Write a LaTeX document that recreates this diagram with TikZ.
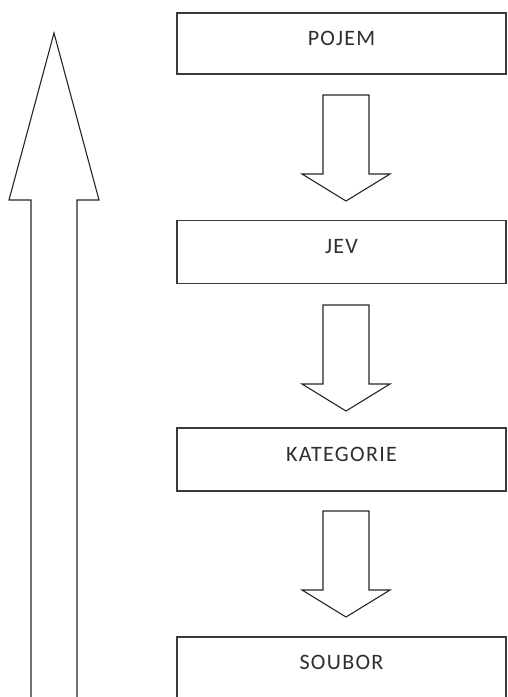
\documentclass[tikz,border=0pt]{standalone}
\usepackage{fontspec}
\setmainfont{Carlito}
\newfontfamily\stagefont[LetterSpace=6]{Carlito}
\definecolor{boxline}{HTML}{3A3A3A}
\definecolor{txt}{HTML}{2E2E2E}
\begin{document}
\begin{tikzpicture}[x=1pt,y=-1pt,
  stagebox/.style={draw=boxline,line width=1.4pt,fill=white,rectangle,inner sep=0pt,
    minimum width=329pt,minimum height=61pt},
  stagetext/.style={text=txt,font=\stagefont\fontsize{22}{24}\selectfont,inner sep=0pt},
  blockarrow/.style={draw=black!85,line width=1.1pt,fill=white,line join=miter},
  pics/downarrow/.style={code={
    \draw[blockarrow] (-23,0) -- (23,0) -- (23,79) -- (44,79) -- (0,106) -- (-44,79) -- (-23,79) -- cycle;
  }}]
\useasboundingbox (0,0) rectangle (508,697);
\clip (0,0) rectangle (508,697);
\fill[white] (0,0) rectangle (508,697);

% boxes
\node[stagebox] (pojem) at (341.5,43.5) {};
\node[stagetext] (tpojem) at ([yshift=-26pt]pojem.north) {POJEM};
\node[stagebox,minimum height=63pt] (jev) at (341.5,252) {};
\node[stagetext] (tjev) at ([yshift=-27pt]jev.north) {JEV};
\node[stagebox,minimum height=63pt] (kat) at (341.5,459.5) {};
\node[stagetext] (tkat) at ([yshift=-27pt]kat.north) {KATEGORIE};
\node[stagebox,minimum height=80pt] (soubor) at (341.5,677) {};
\node[stagetext] (tsoubor) at ([yshift=-26pt]soubor.north) {SOUBOR};

% down block arrows
\pic at (346,95) {downarrow};
\pic at (346,305) {downarrow};
\pic at (346,511) {downarrow};

% big up arrow
\coordinate (uptip) at (54,33);
\draw[blockarrow] (31,710) -- (31,200) -- (9,200) -- (uptip) -- (99,200) -- (77,200) -- (77,710);
\end{tikzpicture}
\end{document}
